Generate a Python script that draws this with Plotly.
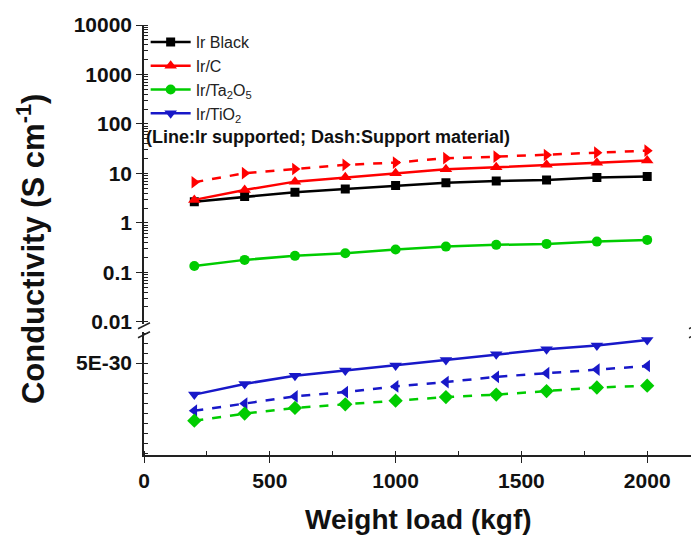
import plotly.graph_objects as go

weight = [200, 400, 600, 800, 1000, 1200, 1400, 1600, 1800, 2000]

# upper (log) panel, S cm^-1
ir_black = [2.69, 3.40, 4.17, 4.86, 5.7, 6.5, 7.0, 7.4, 8.3, 8.7]
ir_c = [2.92, 4.64, 6.83, 8.38, 10.1, 12.2, 13.3, 14.9, 16.5, 18.2]
c_support = [6.64, 10.1, 12.3, 14.9, 16.6, 20.3, 21.8, 23.6, 26.3, 28.9]
ir_ta2o5 = [0.135, 0.179, 0.216, 0.244, 0.29, 0.332, 0.36, 0.377, 0.419, 0.454]

# lower panel (broken axis), S cm^-1
ir_tio2 = [3.42e-30, 3.955e-30, 4.365e-30, 4.63e-30, 4.88e-30, 5.15e-30, 5.435e-30, 5.685e-30, 5.88e-30, 6.15e-30]
tio2_support = [2.615e-30, 2.97e-30, 3.33e-30, 3.545e-30, 3.83e-30, 4.045e-30, 4.31e-30, 4.49e-30, 4.67e-30, 4.85e-30]
ta2o5_support = [2.115e-30, 2.47e-30, 2.755e-30, 2.935e-30, 3.115e-30, 3.295e-30, 3.42e-30, 3.595e-30, 3.775e-30, 3.865e-30]

upper_ticks = [0.01, 0.1, 1, 10, 100, 1000, 10000]
upper_ticktext = ["0.01", "0.1", "1", "10", "100", "1000", "10000"]
lower_ticks = [5e-30]
lower_ticktext = ["5E-30"]
x_ticks = [0, 500, 1000, 1500, 2000]

BLACK = "#000000"
RED = "#FF0000"
GREEN = "#00CC00"
BLUE = "#1818C8"
FONT = "Arial, Liberation Sans, sans-serif"

fig = go.Figure()

def solid(name, y, color, symbol, yaxis, size=10):
    fig.add_trace(go.Scatter(x=weight, y=y, name=name, mode="lines+markers",
                             line=dict(color=color, width=2.5),
                             marker=dict(symbol=symbol, size=size, color=color),
                             xaxis="x", yaxis=yaxis, showlegend=True))

def dashed(y, color, symbol, yaxis, size=11):
    fig.add_trace(go.Scatter(x=weight, y=y, mode="lines+markers",
                             line=dict(color=color, width=2.5, dash="dash"),
                             marker=dict(symbol=symbol, size=size, color=color),
                             xaxis="x", yaxis=yaxis, showlegend=False))

dashed(c_support, RED, "triangle-right", "y")
solid("Ir Black", ir_black, BLACK, "square", "y", 9)
solid("Ir/C", ir_c, RED, "triangle-up", "y", 11)
solid("Ir/Ta<sub>2</sub>O<sub>5</sub>", ir_ta2o5, GREEN, "circle", "y", 10)
solid("Ir/TiO<sub>2</sub>", ir_tio2, BLUE, "triangle-down", "y2", 11)
dashed(tio2_support, BLUE, "triangle-left", "y2")
dashed(ta2o5_support, GREEN, "diamond", "y2")

for i, tr in enumerate(fig.data):
    tr.legendrank = i

axis_line = dict(showline=True, linecolor="#222", linewidth=1.5, ticks="outside",
                 tickcolor="#222", showgrid=False, zeroline=False)
tickfont = dict(family=FONT, size=21, color="#111", weight="bold")

fig.update_layout(
    width=691, height=530,
    margin=dict(l=136, r=2, t=17, b=83),
    paper_bgcolor="white", plot_bgcolor="white",
    xaxis=dict(domain=[0, 1], range=[0, 2190], anchor="y2", tickvals=x_ticks,
               ticklen=6, tickfont=tickfont,
               minor=dict(ticks="inside", dtick=250, ticklen=4, tickcolor="#222"),
               **axis_line),
    xaxis2=dict(domain=[0, 1], range=[0, 2190], anchor="y", side="top", overlaying="x",
                showline=True, linecolor="#222", linewidth=1.5, showticklabels=False,
                ticks="", showgrid=False, zeroline=False),
    yaxis=dict(domain=[0.305, 1], type="log", range=[-2.04, 4], anchor="x",
               tickvals=upper_ticks, ticktext=upper_ticktext, ticklen=6,
               tickfont=tickfont, mirror=True,
               minor=dict(ticks="inside", dtick="D1", ticklen=4, tickcolor="#222"),
               **axis_line),
    yaxis2=dict(domain=[0, 0.286], range=[0.4e-30, 6.55e-30], anchor="x",
                tickvals=lower_ticks, ticktext=lower_ticktext, ticklen=6,
                tickfont=tickfont, mirror=True,
                minor=dict(ticks="inside", tickmode="linear", tick0=0, dtick=0.5e-30,
                           ticklen=4, tickcolor="#222"),
                **axis_line),
    legend=dict(x=0.003, y=1.0, xanchor="left", yanchor="top",
                bgcolor="rgba(0,0,0,0)", font=dict(family=FONT, size=16, color="#222"),
                itemwidth=40, tracegroupgap=0),
    showlegend=True,
)

# break marks
px_x = 1 / 553
px_y = 1 / 430
shapes = []
for xp in (0, 1):
    for yc in (0.296 + 2 * px_y, 0.296 - 7 * px_y):
        shapes.append(dict(type="line", xref="paper", yref="paper",
                           x0=xp - 6 * px_x, y0=yc - 3 * px_y,
                           x1=xp + 6 * px_x, y1=yc + 3 * px_y,
                           line=dict(color="#222", width=1.5)))
fig.update_layout(shapes=shapes)

fig.add_annotation(x=0.0, y=0.74, xref="paper", yref="paper", xanchor="left",
                   yanchor="middle", showarrow=False,
                   text="(Line:Ir supported; Dash:Support material)",
                   font=dict(family=FONT, size=18, color="#111", weight="bold"))
fig.add_annotation(x=-0.206, y=0.48, xref="paper", yref="paper", textangle=-90,
                   xanchor="center", yanchor="middle",
                   showarrow=False, text="Conductivity (S cm<sup>-1</sup>)",
                   font=dict(family=FONT, size=31, color="#111", weight="bold"))
fig.add_annotation(x=0.498, y=-0.151, xref="paper", yref="paper", showarrow=False,
                   xanchor="center", yanchor="middle",
                   text="Weight load (kgf)",
                   font=dict(family=FONT, size=28, color="#111", weight="bold"))

fig.write_html("out.html")
